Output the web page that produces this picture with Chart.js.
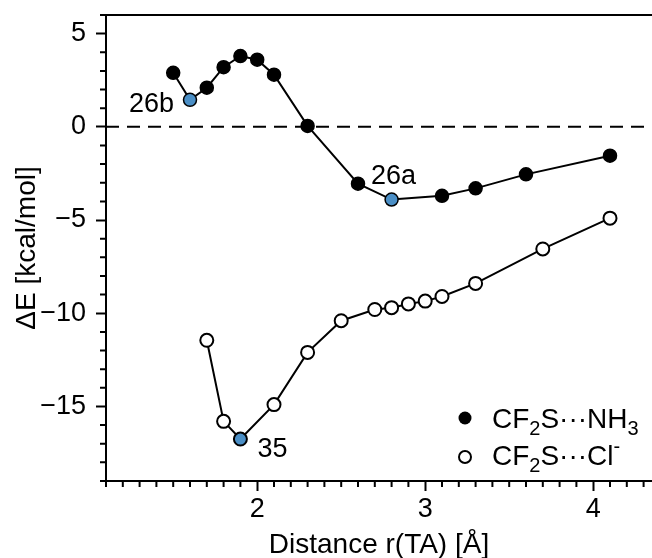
<!DOCTYPE html>
<html lang="en">
<head>
  <meta charset="UTF-8" />
  <title>CF2S interaction energy vs distance</title>
  <script src="https://cdn.jsdelivr.net/npm/chart.js"></script>
  <style>
    body { margin: 0; background: #fff; }
    #wrap { width: 652px; height: 558px; }
  </style>
</head>
<body>
  <div id="wrap"><canvas id="energyChart"></canvas></div>

  <script>
    // CF2S...NH3 (filled markers)
    const nh3Dist   = [1.5, 1.6, 1.7, 1.8, 1.9, 2.0, 2.1, 2.3, 2.6, 2.8, 3.1, 3.3, 3.6, 4.1];
    const nh3Energy = [2.9, 1.45, 2.1, 3.2, 3.8, 3.6, 2.8, 0.05, -3.05, -3.9, -3.7, -3.3, -2.55, -1.55];
    const nh3Tags   = ['', '26b', '', '', '', '', '', '', '', '26a', '', '', '', ''];

    // CF2S...Cl- (open markers)
    const clDist   = [1.7, 1.8, 1.9, 2.1, 2.3, 2.5, 2.7, 2.8, 2.9, 3.0, 3.1, 3.3, 3.7, 4.1];
    const clEnergy = [-11.45, -15.8, -16.75, -14.9, -12.1, -10.4, -9.8, -9.7, -9.5, -9.35, -9.1, -8.4, -6.55, -4.9];
    const clTags   = ['', '', '35', '', '', '', '', '', '', '', '', '', '', ''];

    const xMajor = [2, 3, 4];
    const yMajor = [-15, -10, -5, 0, 5];

    // legend entries as [text, 'sub' | 'sup' | ''] runs
    const legendNames = [
      [['CF', ''], ['2', 'sub'], ['S\u00b7\u00b7\u00b7NH', ''], ['3', 'sub']],
      [['CF', ''], ['2', 'sub'], ['S\u00b7\u00b7\u00b7Cl', ''], ['-', 'sup']]
    ];

    const FONT = '"Liberation Sans", Arial, Helvetica, sans-serif';
    const BLUE = '#4b8fc6';
    Chart.defaults.font.family = FONT;
    Chart.defaults.color = '#000';

    function toPoints(xs, ys) {
      return xs.map((x, i) => ({ x: x, y: ys[i] }));
    }

    function drawRich(ctx, runs, x, y) {
      runs.forEach(([txt, kind]) => {
        let size = 28, dy = 0;
        if (kind === 'sub') { size = 20; dy = 7; }
        if (kind === 'sup') { size = 20; dy = -12; }
        ctx.font = size + 'px ' + FONT;
        ctx.fillText(txt, x, y + dy);
        x += ctx.measureText(txt).width;
      });
    }

    const decor = {
      id: 'decor',
      beforeDatasetsDraw(chart) {
        const { ctx, chartArea: a, scales: { x, y } } = chart;
        ctx.save();
        ctx.strokeStyle = '#000';
        ctx.lineWidth = 2;

        // zero line
        const y0 = y.getPixelForValue(0);
        ctx.setLineDash([13, 8]);
        ctx.beginPath();
        ctx.moveTo(a.left, y0);
        ctx.lineTo(a.right, y0);
        ctx.stroke();
        ctx.setLineDash([]);

        // top frame
        ctx.beginPath();
        ctx.moveTo(a.left, a.top);
        ctx.lineTo(a.right, a.top);
        ctx.stroke();

        // minor ticks
        ctx.beginPath();
        for (let i = 11; i <= 43; i++) {
          if (i % 10 === 0) continue;
          const px = x.getPixelForValue(i / 10);
          ctx.moveTo(px, a.bottom);
          ctx.lineTo(px, a.bottom + 6);
        }
        for (let v = -19; v <= 6; v++) {
          if (v % 5 === 0) continue;
          const py = y.getPixelForValue(v);
          ctx.moveTo(a.left, py);
          ctx.lineTo(a.left - 6, py);
        }
        ctx.stroke();
        ctx.restore();
      },
      afterDatasetsDraw(chart) {
        const { ctx, chartArea: a } = chart;
        ctx.save();
        ctx.fillStyle = '#000';
        ctx.font = '27px ' + FONT;
        ctx.textBaseline = 'alphabetic';

        // point labels
        const nh3Pts = chart.getDatasetMeta(0).data;
        const clPts = chart.getDatasetMeta(1).data;
        nh3Tags.forEach((t, i) => {
          if (!t) return;
          const p = nh3Pts[i];
          if (t === '26b') {
            ctx.textAlign = 'right';
            ctx.fillText(t, p.x - 16, p.y + 12);
          } else {
            ctx.textAlign = 'center';
            ctx.fillText(t, p.x + 2, p.y - 16);
          }
        });
        clTags.forEach((t, i) => {
          if (!t) return;
          const p = clPts[i];
          ctx.textAlign = 'left';
          ctx.fillText(t, p.x + 17, p.y + 18);
        });

        // legend
        ctx.textAlign = 'left';
        const mx = a.right - 187, tx = a.right - 160;
        const rows = [a.bottom - 53, a.bottom - 16];
        ctx.lineWidth = 2;
        ctx.strokeStyle = '#000';
        ctx.beginPath();
        ctx.arc(mx, rows[0] - 10, 6.5, 0, Math.PI * 2);
        ctx.fill();
        ctx.beginPath();
        ctx.arc(mx, rows[1] - 8, 6, 0, Math.PI * 2);
        ctx.fillStyle = '#fff';
        ctx.fill();
        ctx.stroke();
        ctx.fillStyle = '#000';
        legendNames.forEach((runs, i) => drawRich(ctx, runs, tx, rows[i]));
        ctx.restore();
      }
    };

    new Chart(document.getElementById('energyChart'), {
      type: 'line',
      data: {
        datasets: [
          {
            data: toPoints(nh3Dist, nh3Energy),
            borderColor: '#000',
            borderWidth: 2,
            pointRadius: 6.5,
            pointHoverRadius: 6.5,
            pointBackgroundColor: nh3Tags.map(t => t ? BLUE : '#000'),
            pointBorderColor: '#000',
            pointBorderWidth: 1.5,
            tension: 0
          },
          {
            data: toPoints(clDist, clEnergy),
            borderColor: '#000',
            borderWidth: 2,
            pointRadius: 6.5,
            pointHoverRadius: 6.5,
            pointBackgroundColor: clTags.map(t => t ? BLUE : '#fff'),
            pointBorderColor: '#000',
            pointBorderWidth: 2,
            tension: 0
          }
        ]
      },
      options: {
        responsive: true,
        maintainAspectRatio: false,
        animation: false,
        events: [],
        layout: { autoPadding: false, padding: { top: 15, left: 0, right: 0, bottom: 0 } },
        plugins: { legend: { display: false }, tooltip: { enabled: false } },
        scales: {
          x: {
            type: 'linear',
            min: 1.1,
            max: 4.35,
            afterFit: s => { s.height = 77; s.paddingLeft = 0; s.paddingRight = 0; },
            afterBuildTicks: s => { s.ticks = xMajor.map(v => ({ value: v })); },
            grid: { drawOnChartArea: false, tickLength: 10, tickWidth: 2, tickColor: '#000' },
            border: { display: true, width: 2, color: '#000' },
            ticks: { font: { size: 27 }, padding: 2, maxRotation: 0 },
            title: {
              display: true,
              text: 'Distance r(TA) [\u00c5]',
              font: { size: 28, lineHeight: 1 },
              padding: { top: 0, bottom: -1 }
            }
          },
          y: {
            min: -19,
            max: 6,
            afterFit: s => { s.width = 106; s.paddingTop = 0; s.paddingBottom = 0; },
            afterBuildTicks: s => { s.ticks = yMajor.map(v => ({ value: v })); },
            grid: { drawOnChartArea: false, tickLength: 10, tickWidth: 2, tickColor: '#000' },
            border: { display: true, width: 2, color: '#000' },
            ticks: {
              font: { size: 27 },
              padding: 10,
              callback: v => v < 0 ? '\u2212' + Math.abs(v) : String(v)
            },
            title: {
              display: true,
              text: '\u0394E [kcal/mol]',
              font: { size: 28, lineHeight: 1 },
              padding: { top: 13, bottom: 0 }
            }
          }
        }
      },
      plugins: [decor]
    });
  </script>
</body>
</html>
